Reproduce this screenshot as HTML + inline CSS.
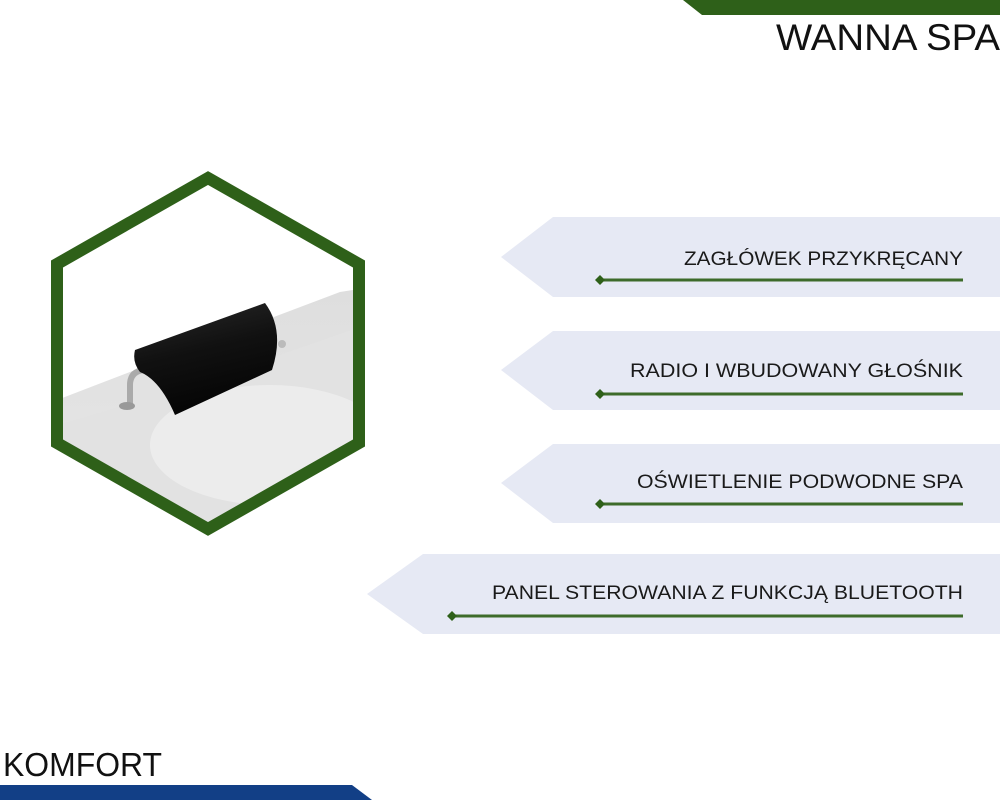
<!DOCTYPE html>
<html><head><meta charset="utf-8"><style>
html,body{margin:0;padding:0;background:#fff;}
svg{display:block;}
</style></head><body>
<svg width="1000" height="800" viewBox="0 0 1000 800" xmlns="http://www.w3.org/2000/svg" font-family="Liberation Sans, sans-serif">
<defs>
<clipPath id="hex"><polygon points="208,178 359,264 359,443 208,529 57,443 57,264"/></clipPath>
<linearGradient id="tub" x1="0" y1="0" x2="0" y2="1">
<stop offset="0" stop-color="#dedede"/><stop offset="1" stop-color="#e8e8e8"/></linearGradient>
<linearGradient id="cyl" x1="0" y1="0" x2="0.3" y2="1">
<stop offset="0" stop-color="#2a2a2a"/><stop offset="0.5" stop-color="#111"/><stop offset="1" stop-color="#050505"/></linearGradient>
</defs>
<polygon points="683,0 1000,0 1000,15 702,15" fill="#2e6019"/>
<text x="776" y="50" font-size="37" fill="#111" textLength="224" lengthAdjust="spacingAndGlyphs">WANNA SPA</text>
<polygon points="0,785 352,785 372,800 0,800" fill="#123f86"/>
<text x="3" y="776" font-size="33" fill="#111" textLength="159" lengthAdjust="spacingAndGlyphs">KOMFORT</text>
<g clip-path="url(#hex)">
<rect x="40" y="170" width="330" height="370" fill="#fff"/>
<polygon points="57,400 200,345 340,292 365,288 365,540 57,540" fill="url(#tub)"/>
<path d="M57,425 Q200,385 365,325 L365,540 L57,540Z" fill="#e2e2e2"/>
<ellipse cx="270" cy="445" rx="120" ry="60" fill="#ececec"/>
<path d="M130,405 L130,385 Q130,372 143,370" stroke="#aaa" stroke-width="6" fill="none"/>
<ellipse cx="127" cy="406" rx="8" ry="4" fill="#999"/>
<path d="M135,350 L265,303 Q285,330 272,370 L175,415 Q160,380 140,372 Q132,362 135,350Z" fill="url(#cyl)"/>
<circle cx="282" cy="344" r="4" fill="#bbb"/>
</g>
<polygon points="208,178 359,264 359,443 208,529 57,443 57,264" fill="none" stroke="#2e6019" stroke-width="12"/>
<g fill="#e6e9f4">
<polygon points="553,217 1000,217 1000,297 553,297 501,257"/>
<polygon points="553,331 1000,331 1000,410 553,410 501,370"/>
<polygon points="553,444 1000,444 1000,523 553,523 501,483"/>
<polygon points="423,554 1000,554 1000,634 423,634 367,594"/>
</g>
<g stroke="#3d6b2a" stroke-width="3">
<line x1="600" y1="280" x2="963" y2="280"/>
<line x1="600" y1="394" x2="963" y2="394"/>
<line x1="600" y1="504" x2="963" y2="504"/>
<line x1="452" y1="616" x2="963" y2="616"/>
</g>
<g fill="#2e6019">
<polygon points="600,275 605,280 600,285 595,280"/>
<polygon points="600,389 605,394 600,399 595,394"/>
<polygon points="600,499 605,504 600,509 595,504"/>
<polygon points="452,611 457,616 452,621 447,616"/>
</g>
<g font-size="19" fill="#1a1a1a">
<text x="684" y="265" textLength="279" lengthAdjust="spacingAndGlyphs">ZAGŁÓWEK PRZYKRĘCANY</text>
<text x="630" y="377" textLength="333" lengthAdjust="spacingAndGlyphs">RADIO I WBUDOWANY GŁOŚNIK</text>
<text x="637" y="488" textLength="326" lengthAdjust="spacingAndGlyphs">OŚWIETLENIE PODWODNE SPA</text>
<text x="492" y="599" textLength="471" lengthAdjust="spacingAndGlyphs">PANEL STEROWANIA Z FUNKCJĄ BLUETOOTH</text>
</g>
</svg>
</body></html>
